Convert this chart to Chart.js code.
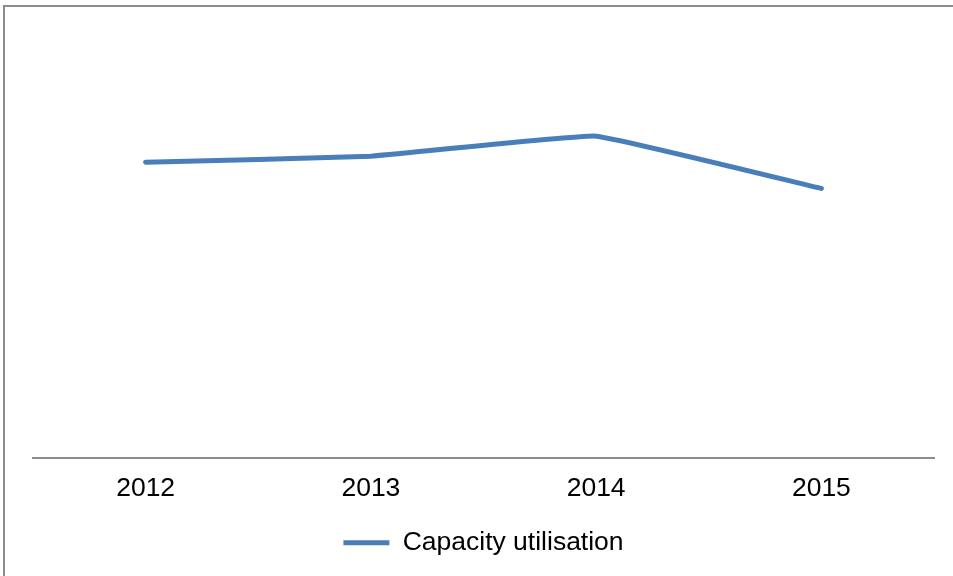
<!DOCTYPE html>
<html>
<head>
<meta charset="utf-8">
<script src="https://cdn.jsdelivr.net/npm/chart.js@4/dist/chart.umd.min.js"></script>
<style>
  html, body { margin: 0; padding: 0; background: #fff; overflow: hidden; }
  #wrap { position: relative; width: 953px; height: 576px; }
  #frame { position: absolute; left: 3px; top: 5px; width: 1000px; height: 1000px;
           border: 2px solid #8c8c8c; box-sizing: border-box; pointer-events: none; }
  canvas { position: absolute; left: 0; top: 0; }
</style>
</head>
<body>
<div id="wrap">
  <canvas id="chart" width="953" height="576"></canvas>
  <div id="frame"></div>
</div>
<script>
// chart data
const years = ['2012', '2013', '2014', '2015'];
const capacityUtilisation = [67.8, 69.2, 73.8, 61.8];

const lineColor = '#4a7ebb';
const ctx = document.getElementById('chart').getContext('2d');

new Chart(ctx, {
  type: 'line',
  data: {
    labels: years,
    datasets: [{
      label: 'Capacity utilisation',
      data: capacityUtilisation,
      borderColor: lineColor,
      backgroundColor: lineColor,
      borderWidth: 5,
      borderCapStyle: 'round',
      borderJoinStyle: 'round',
      pointRadius: 0,
      tension: 0.08,
      fill: false
    }]
  },
  options: {
    responsive: false,
    animation: false,
    layout: {
      padding: { left: 33, right: 19, top: 22, bottom: 10 }
    },
    scales: {
      x: {
        offset: true,
        grid: { display: false, drawTicks: false },
        border: { display: true, color: '#8c8c8c', width: 2 },
        ticks: {
          color: '#000',
          padding: 15,
          font: { family: 'Liberation Sans, Arial, sans-serif', size: 26.5 }
        }
      },
      y: {
        display: false,
        min: 0,
        max: 100
      }
    },
    plugins: {
      legend: {
        position: 'bottom',
        labels: {
          boxWidth: 46,
          boxHeight: 5,
          padding: 10,
          color: '#000',
          font: { family: 'Liberation Sans, Arial, sans-serif', size: 26.5 },
          generateLabels: function (chart) {
            const items = Chart.defaults.plugins.legend.labels.generateLabels(chart);
            items.forEach(function (item) { item.lineWidth = 0; });
            return items;
          }
        }
      },
      tooltip: { enabled: false }
    }
  }
});
</script>
</body>
</html>
